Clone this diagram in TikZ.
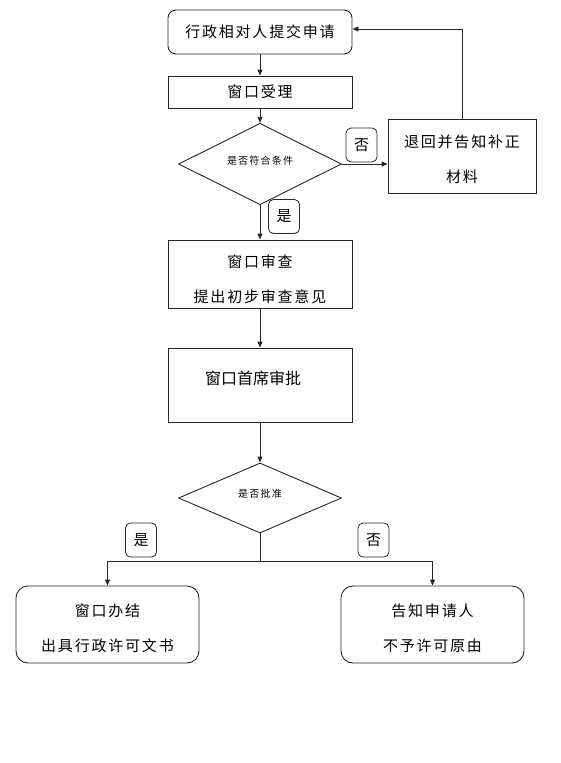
\documentclass[tikz,border=0pt]{standalone}
\usepackage{fontspec}
\setmainfont{Noto Sans CJK SC}
\newfontfamily\cjk[LetterSpace=12]{Noto Sans CJK SC}
\usetikzlibrary{arrows.meta,positioning,shapes.geometric}
\definecolor{ink}{RGB}{40,40,40}
\tikzset{
  stepbox/.style={draw=ink,line width=0.9pt,minimum width=184pt,minimum height=32pt,inner sep=0pt,align=center,font=\cjk\fontsize{15}{35}\selectfont},
  startbox/.style={stepbox,rounded corners=8pt,minimum height=44pt},
  endbox/.style={stepbox,rounded corners=12pt,minimum width=183pt,minimum height=77pt},
  check/.style={diamond,draw=ink,line width=0.9pt,minimum width=163pt,minimum height=71pt,inner sep=0pt,font=\cjk\fontsize{10}{12}\selectfont},
  tag/.style={draw=ink,line width=0.8pt,rounded corners=5pt,minimum width=31pt,minimum height=34pt,inner sep=0pt,font=\cjk\fontsize{15}{18}\selectfont},
  arr/.style={-{Triangle[length=6pt,width=5pt]},draw=ink,line width=0.9pt},
  link/.style={draw=ink,line width=0.9pt}
}
\newcommand{\lift}[1]{\rule{0pt}{#1}}
\begin{document}
\begin{tikzpicture}[x=1pt,y=-1pt]
  \useasboundingbox (0,0) rectangle (561,763);
  % main column
  \node[startbox] (ask) at (260,32) {行政相对人提交申请};
  \node[stepbox] (accept) at (260,92) {窗口受理};
  \node[check] (cond) at (260,164) {\raisebox{7pt}{是否符合条件}};
  \node[stepbox,minimum width=148pt,minimum height=74pt] (back) at (462,156) {\lift{19pt}退回并告知补正\\材料};
  \node[stepbox,minimum height=68pt] (review) at (260,274) {\lift{24pt}窗口审查\\提出初步审查意见};
  \node[stepbox,minimum height=74pt,font=\fontsize{16}{18}\selectfont] (approve) at (260,385) {\raisebox{14pt}{窗口首席审批}\hspace{14pt}};
  \node[check,minimum height=70pt] (grant) at (260,498) {\raisebox{9pt}{是否批准}};
  % results
  \node[endbox] (done) at (107.5,624.5) {\lift{21pt}窗口办结\\出具行政许可文书};
  \node[endbox] (deny) at (432.5,624.5) {\lift{21pt}告知申请人\\不予许可原由};
  % tags
  \node[tag] (no1) at (361.5,145) {否};
  \node[tag] (yes1) at (284,216.5) {是};
  \node[tag] (yes2) at (141,540) {是};
  \node[tag] (no2) at (373.5,540) {否};
  % connectors
  \draw[arr] (ask) -- (accept);
  \draw[arr] (accept) -- (cond);
  \draw[arr] (cond.east) -- (cond.east -| back.west);
  \draw[arr] (back.north) |- ([yshift=3pt]ask.east);
  \draw[arr] (cond) -- (review);
  \draw[arr] (review) -- (approve);
  \draw[arr] (approve) -- (grant);
  \coordinate (split) at (260,561);
  \draw[link] (grant.south) -- (split);
  \draw[arr] (split) -| (done.north);
  \draw[arr] (split) -| (deny.north);
\end{tikzpicture}
\end{document}
